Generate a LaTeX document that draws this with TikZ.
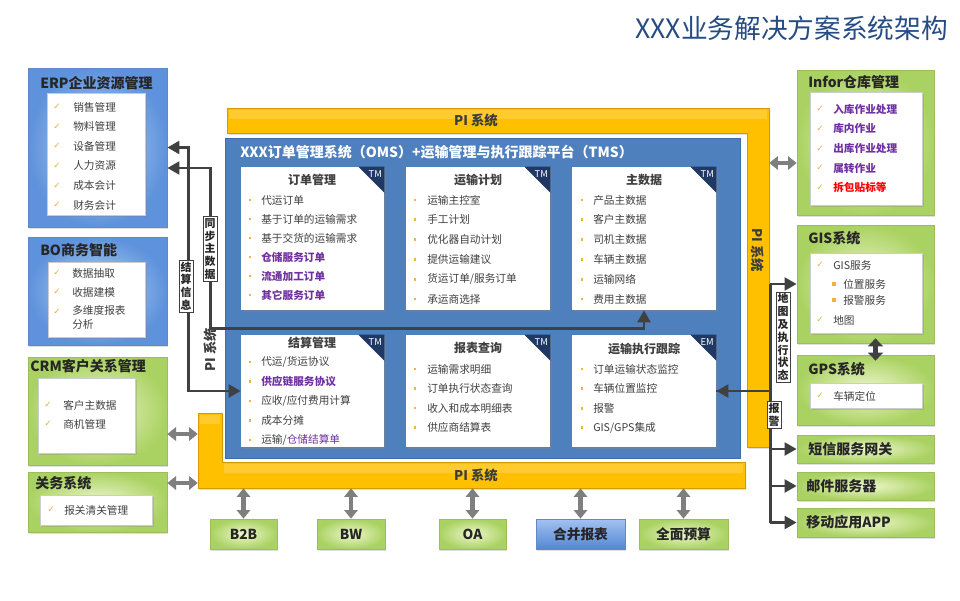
\documentclass[tikz,border=0pt]{standalone}
\usepackage{fontspec}
\setmainfont{Noto Sans CJK SC}
\setsansfont{Noto Sans CJK SC}
\newfontfamily\dejavu{DejaVu Sans}
\usetikzlibrary{arrows.meta,fit,shadows,calc}
\definecolor{titleblue}{HTML}{264C84}
\definecolor{blueIn}{HTML}{B8D3F6}
\definecolor{blueOut}{HTML}{5E92DC}
\definecolor{blueEdge}{HTML}{5F89C8}
\definecolor{btnTop}{HTML}{A2C2F2}
\definecolor{btnBot}{HTML}{5586D3}
\definecolor{greenIn}{HTML}{EEF7CD}
\definecolor{greenOut}{HTML}{AAD262}
\definecolor{greenEdge}{HTML}{9DBD5C}
\definecolor{piTop}{HTML}{FFCB2E}
\definecolor{piFill}{HTML}{FFC000}
\definecolor{piEdge}{HTML}{D39B00}
\definecolor{mainBlue}{HTML}{4F80BE}
\definecolor{mainEdge}{HTML}{3E6DAA}
\definecolor{navy}{HTML}{1F3864}
\definecolor{darkLine}{HTML}{404040}
\definecolor{grayLine}{HTML}{7F7F7F}
\definecolor{txt}{HTML}{404040}
\definecolor{headTxt}{HTML}{262626}
\definecolor{purp}{HTML}{7030A0}
\definecolor{checkGold}{HTML}{E3B341}
\definecolor{bulGold}{HTML}{F0B43C}
\tikzset{
  bluebox/.style={draw=blueEdge, line width=0.5pt, inner color=blueIn, outer color=blueOut,
    drop shadow={opacity=0.25, shadow xshift=1pt, shadow yshift=-1.5pt}},
  greenbox/.style={draw=greenEdge, line width=0.5pt, inner color=greenIn, outer color=greenOut,
    drop shadow={opacity=0.25, shadow xshift=1pt, shadow yshift=-1.5pt}},
  bluebtn/.style={draw=blueEdge, line width=0.5pt, top color=btnTop, bottom color=btnBot,
    drop shadow={opacity=0.25, shadow xshift=1pt, shadow yshift=-1.5pt}},
  whitebox/.style={draw=black!20, line width=0.4pt, fill=white,
    drop shadow={opacity=0.3, shadow xshift=1.2pt, shadow yshift=-1.2pt}},
  card/.style={fill=white, inner sep=0pt,
    drop shadow={opacity=0.45, shadow xshift=1.5pt, shadow yshift=-1.5pt}},
  pishape/.style={fill=piFill, draw=piEdge, line width=0.6pt,
    drop shadow={opacity=0.25, shadow xshift=1pt, shadow yshift=-1.5pt}},
  boxtitle/.style={anchor=west, inner sep=0pt, text=headTxt, font=\bfseries\fontsize{10.5}{12}\selectfont},
  btntext/.style={inner sep=0pt, text=headTxt, font=\bfseries\fontsize{10.3}{12}\selectfont},
  item/.style={anchor=west, inner sep=0pt, text=txt, font=\fontsize{8}{10.5}\selectfont},
  pitem/.style={anchor=west, inner sep=0pt, text=purp, font=\bfseries\fontsize{8}{10.5}\selectfont},
  ritem/.style={anchor=west, inner sep=0pt, text=red, font=\bfseries\fontsize{8}{10.5}\selectfont},
  chk/.style={inner sep=0pt, text=checkGold, font=\dejavu\fontsize{6.5}{8}\selectfont},
  bul/.style={fill=bulGold, minimum size=2.2pt, inner sep=0pt},
  sqbul/.style={fill=bulGold, minimum size=3.2pt, inner sep=0pt},
  cardtitle/.style={inner sep=0pt, text=txt, font=\bfseries\fontsize{9}{11}\selectfont},
  tm/.style={inner sep=0pt, text=white, font=\fontsize{7}{8}\selectfont},
  pitext/.style={inner sep=0pt, text=headTxt!90, font=\bfseries\fontsize{10}{11}\selectfont},
  vlabel/.style={draw=darkLine, line width=0.6pt, fill=white, inner sep=1.2pt, align=center,
    text=headTxt, font=\bfseries\fontsize{8.2}{9.6}\selectfont},
  darkarr/.style={draw=darkLine, line width=2.2pt,
    {Triangle[length=9pt,width=9.5pt]}-{Triangle[length=9pt,width=9.5pt]}},
  darkline/.style={draw=darkLine, line width=2.2pt},
  darktip/.style={draw=darkLine, line width=2.2pt, -{Triangle[length=9pt,width=9.5pt]}},
  grayarr/.style={draw=grayLine, line width=3.5pt,
    {Triangle[length=6.5pt,width=10pt]}-{Triangle[length=6.5pt,width=10pt]}},
  gpsarr/.style={draw=darkLine, line width=3.5pt,
    {Triangle[length=6pt,width=11pt]}-{Triangle[length=6pt,width=11pt]}},
}
\begin{document}
\begin{tikzpicture}[x=0.75pt,y=-0.75pt]
\fill[white] (0,0) rectangle (960,600);
\useasboundingbox (0,0) rectangle (960,600);

% title
\node[anchor=east, inner sep=0pt, text=titleblue, font=\fontsize{20}{24}\selectfont] (title) at (948,28) {XXX业务解决方案系统架构};

% ---------- left column ----------
\node[fit={(28,68)(167,227)}, inner sep=0pt, bluebox] (erp) {};
\node[boxtitle] (erpT) at (40,83) {ERP企业资源管理};
\node[fit={(47,93)(145,215)}, inner sep=0pt, whitebox] (erpW) {};
\foreach \t [count=\i] in {销售管理,物料管理,设备管理,人力资源,成本会计,财务会计}{
  \node[chk] (erpC\i) at (57,{107+19.6*(\i-1)}) {✓};
  \node[item] (erpI\i) at (73,{107+19.6*(\i-1)}) {\t};
}

\node[fit={(28,237)(167,345)}, inner sep=0pt, bluebox] (bo) {};
\node[boxtitle] (boT) at (40,250) {BO商务智能};
\node[fit={(48,262)(145,337)}, inner sep=0pt, whitebox] (boW) {};
\node[chk] (boC1) at (57,273) {✓};
\node[item] (boI1) at (72,273) {数据抽取};
\node[chk] (boC2) at (57,292) {✓};
\node[item] (boI2) at (72,292) {收据建模};
\node[chk] (boC3) at (57,312) {✓};
\node[item, anchor=north west, align=left] (boI3) at (72,305) {多维度报表\\分析};

\node[fit={(28,357)(167,465)}, inner sep=0pt, greenbox] (crm) {};
\node[boxtitle] (crmT) at (30,366) {CRM客户关系管理};
\node[fit={(38,378)(135,453)}, inner sep=0pt, whitebox] (crmW) {};
\node[chk] (crmC1) at (48,405) {✓};
\node[item] (crmI1) at (63,405) {客户主数据};
\node[chk] (crmC2) at (48,424) {✓};
\node[item] (crmI2) at (63,424) {商机管理};

\node[fit={(28,472)(167,532)}, inner sep=0pt, greenbox] (gw) {};
\node[boxtitle] (gwT) at (35,483) {关务系统};
\node[fit={(40,495)(152,525)}, inner sep=0pt, whitebox] (gwW) {};
\node[chk] (gwC1) at (51,510) {✓};
\node[item] (gwI1) at (64,510) {报关清关管理};

% ---------- right column ----------
\node[fit={(797,70)(934,215)}, inner sep=0pt, greenbox] (infor) {};
\node[boxtitle] (inforT) at (808,82) {Infor仓库管理};
\node[fit={(810,92)(922,205)}, inner sep=0pt, whitebox] (inforW) {};
\foreach \t/\s [count=\i] in {入库作业处理/pitem,库内作业/pitem,出库作业处理/pitem,属转作业/pitem,拆包贴标等/ritem}{
  \node[chk] (inC\i) at (820,{109+19.7*(\i-1)}) {✓};
  \node[\s] (inI\i) at (833,{109+19.7*(\i-1)}) {\t};
}

\node[fit={(797,225)(934,343)}, inner sep=0pt, greenbox] (gis) {};
\node[boxtitle] (gisT) at (808,238) {GIS系统};
\node[fit={(810,253)(922,333)}, inner sep=0pt, whitebox] (gisW) {};
\node[chk] (gisC1) at (820,265) {✓};
\node[item] (gisI1) at (833,265) {GIS服务};
\node[sqbul] (gisB1) at (834,284) {};
\node[item] (gisI2) at (843,284) {位置服务};
\node[sqbul] (gisB2) at (834,300) {};
\node[item] (gisI3) at (843,300) {报警服务};
\node[chk] (gisC2) at (820,320) {✓};
\node[item] (gisI4) at (833,320) {地图};

\node[fit={(797,355)(934,425)}, inner sep=0pt, greenbox] (gps) {};
\node[boxtitle] (gpsT) at (808,369) {GPS系统};
\node[fit={(810,383)(922,408)}, inner sep=0pt, whitebox] (gpsW) {};
\node[chk] (gpsC1) at (820,396) {✓};
\node[item] (gpsI1) at (833,396) {车辆定位};

\node[fit={(797,435)(934,463)}, inner sep=0pt, greenbox] (sms) {};
\node[boxtitle] (smsT) at (808,449) {短信服务网关};
\node[fit={(797,472)(934,500)}, inner sep=0pt, greenbox] (mail) {};
\node[boxtitle] (mailT) at (806,486) {邮件服务器};
\node[fit={(797,508)(934,537)}, inner sep=0pt, greenbox] (app) {};
\node[boxtitle] (appT) at (806,522) {移动应用APP};

% ---------- bottom boxes ----------
\node[fit={(210,519)(277,549)}, inner sep=0pt, greenbox] (b2b) {};
\node[fit={(317,519)(385,549)}, inner sep=0pt, greenbox] (bw) {};
\node[fit={(439,519)(506,549)}, inner sep=0pt, greenbox] (oa) {};
\node[fit={(536,519)(625,549)}, inner sep=0pt, bluebtn] (hb) {};
\node[fit={(639,519)(728,549)}, inner sep=0pt, greenbox] (ys) {};
\node[btntext] (b2bT) at (b2b.center) {B2B};
\node[btntext] (bwT) at (bw.center) {BW};
\node[btntext] (oaT) at (oa.center) {OA};
\node[btntext] (hbT) at (hb.center) {合并报表};
\node[btntext] (ysT) at (ys.center) {全面预算};

% ---------- PI frame ----------
\node[fit={(227,108)(769,133)}, inner sep=0pt] (pitop) {};
\node[fit={(747,108)(769,447)}, inner sep=0pt] (piright) {};
\node[fit={(198,462)(745,488)}, inner sep=0pt] (pibot) {};
\node[fit={(198,413)(222,488)}, inner sep=0pt] (pileft) {};
\filldraw[pishape] (227,108) -- (769,108) -- (769,447) -- (747,447) -- (747,133) -- (227,133) -- cycle;
\filldraw[pishape] (198,413) -- (222,413) -- (222,462) -- (745,462) -- (745,488) -- (198,488) -- cycle;
\fill[piTop] (229,110) rectangle (767,119);
\fill[piTop] (200,415) rectangle (220,424);
\fill[piTop] (224,464) rectangle (743,473);
\node[pitext] (piT1) at (476,120) {PI 系统};
\node[pitext] (piT2) at (476,475) {PI 系统};
\node[pitext, rotate=-90] (piT3) at (758,250) {PI 系统};
\node[pitext, rotate=90] (piT4) at (210,350) {PI 系统};

% ---------- main blue platform ----------
\node[fit={(225,138)(740,458)}, inner sep=0pt, fill=mainBlue, draw=mainEdge, line width=0.6pt] (oms) {};
\node[anchor=west, inner sep=0pt, text=white, font=\bfseries\fontsize{10.5}{12}\selectfont] (omsT) at (240,152) {XXX订单管理系统（OMS）+运输管理与执行跟踪平台（TMS）};

% cards
\node[fit={(241,167)(384,310)}, card] (c1) {};
\node[fit={(406,167)(550,310)}, card] (c2) {};
\node[fit={(572,167)(716,310)}, card] (c3) {};
\node[fit={(241,335)(384,447)}, card] (c4) {};
\node[fit={(406,335)(550,447)}, card] (c5) {};
\node[fit={(572,335)(716,447)}, card] (c6) {};
\foreach \c/\lab in {c1/TM,c2/TM,c3/TM,c4/TM,c5/TM,c6/EM}{
  \fill[navy] (\c.north east) -- ++(-26,0) -- ++(26,26) -- cycle;
  \node[tm] (\c tm) at ($(\c.north east)+(-9,7)$) {\lab};
}
\node[cardtitle] (c1T) at (312,180) {订单管理};
\node[cardtitle] (c2T) at (478,180) {运输计划};
\node[cardtitle] (c3T) at (644,180) {主数据};
\node[cardtitle] (c4T) at (312,343) {结算管理};
\node[cardtitle] (c5T) at (478,348) {报表查询};
\node[cardtitle] (c6T) at (644,349) {运输执行跟踪};

\foreach \t/\s [count=\i] in {代运订单/item,基于订单的运输需求/item,基于交货的运输需求/item,仓储服务订单/pitem,流通加工订单/pitem,其它服务订单/pitem}{
  \node[bul] (c1b\i) at (250,{200+19*(\i-1)}) {};
  \node[\s] (c1i\i) at (261,{200+19*(\i-1)}) {\t};
}
\foreach \t [count=\i] in {运输主控室,手工计划,优化器自动计划,提供运输建议,{货运订单/服务订单},承运商选择}{
  \node[bul] (c2b\i) at (415,{200+19.8*(\i-1)}) {};
  \node[item] (c2i\i) at (427,{200+19.8*(\i-1)}) {\t};
}
\foreach \t [count=\i] in {产品主数据,客户主数据,司机主数据,车辆主数据,运输网络,费用主数据}{
  \node[bul] (c3b\i) at (582,{200+19.8*(\i-1)}) {};
  \node[item] (c3i\i) at (593,{200+19.8*(\i-1)}) {\t};
}
\foreach \t/\s [count=\i] in {{代运/货运协议}/item,供应链服务协议/pitem,{应收/应付费用计算}/item,成本分摊/item,{运输/{\color{purp}仓储结算单}}/item}{
  \node[bul] (c4b\i) at (250,{362+19.5*(\i-1)}) {};
  \node[\s] (c4i\i) at (261,{362+19.5*(\i-1)}) {\t};
}
\foreach \t [count=\i] in {运输需求明细,订单执行状态查询,收入和成本明细表,供应商结算表}{
  \node[bul] (c5b\i) at (415,{369+19.5*(\i-1)}) {};
  \node[item] (c5i\i) at (427,{369+19.5*(\i-1)}) {\t};
}
\foreach \t [count=\i] in {订单运输状态监控,车辆位置监控,报警,{GIS/GPS集成}}{
  \node[bul] (c6b\i) at (582,{369+19.6*(\i-1)}) {};
  \node[item] (c6i\i) at (593,{369+19.6*(\i-1)}) {\t};
}

% ---------- gray interface arrows ----------
\draw[grayarr] ($(infor.west)+(0,20.5)$) coordinate (gi1) -- (gi1 -| piright.east);
\draw[grayarr] ($(crm.east)+(0,23)$) coordinate (gc1) -- (gc1 -| pileft.west);
\draw[grayarr] ($(gw.east)+(0,-19)$) coordinate (gg1) -- (gg1 -| pileft.west);
\foreach \b in {b2b,bw,oa,hb,ys}{
  \draw[grayarr] (\b.north) -- (\b.north |- pibot.south);
}

% ---------- dark data-flow arrows ----------
\draw[darkarr] (erp.east) -- ++(21,0) |- (c4.west);
\draw[darkarr] ($(erp.east)+(0,20.5)$) -- ++(43,0) |- ($(c3.south)+(0,18)$) -- (c3.south);
\draw[darkline] (c6.east) -- ++(54,0) coordinate (rj);
\draw[darktip] (rj) -- (c6.east);
\draw[darkline] (rj |- gis.west) -- (rj |- app.west);
\draw[darktip] (rj |- gis.west) -- (gis.west);
\draw[darktip] (rj |- sms.west) -- (sms.west);
\draw[darktip] (rj |- mail.west) -- (mail.west);
\draw[darktip] (rj |- app.west) -- (app.west);
\draw[gpsarr] ($(gis.south)+(10,-5)$) -- ($(gps.north)+(10,6)$);

% labels on the arrows
\node[vlabel] (lab1) at (210,249) {同\\步\\主\\数\\据};
\node[vlabel] (lab2) at (186,286) {结\\算\\信\\息};
\node[vlabel] (lab3) at (783,337) {地\\图\\及\\执\\行\\状\\态};
\node[vlabel] (lab4) at (774,415) {报\\警};
\end{tikzpicture}
\end{document}
